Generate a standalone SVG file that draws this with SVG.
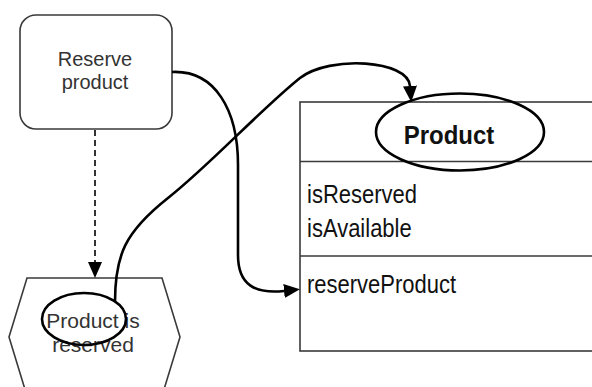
<svg xmlns="http://www.w3.org/2000/svg" width="592" height="387" viewBox="0 0 592 387">
  <style>
    .shape { fill: #fff; stroke: #3a3a3a; stroke-width: 1.6; }
    .ring { fill: none; stroke: #000; stroke-width: 2.6; }
    .flow { fill: none; stroke: #000; stroke-width: 2.6; }
    .dep { fill: none; stroke: #000; stroke-width: 1.6; stroke-dasharray: 6 4; }
    .label { font-family: "Liberation Sans", Arial, sans-serif; font-size: 20px; fill: #333; text-anchor: middle; }
    .label-lg { font-size: 21px; }
    .member { font-family: "Liberation Sans", Arial, sans-serif; font-size: 22px; fill: #111; }
    .title { font-family: "Liberation Sans", Arial, sans-serif; font-size: 24px; font-weight: bold; fill: #111; text-anchor: middle; }
  </style>
  <defs>
    <marker id="head" markerUnits="userSpaceOnUse" viewBox="0 0 16 14" refX="0" refY="7" markerWidth="16" markerHeight="14" orient="auto">
      <path d="M0,0 L16,7 L0,14 z" fill="#000"/>
    </marker>
  </defs>

  <!-- class box -->
  <g id="product-class">
    <rect class="shape" x="300" y="102" width="310" height="249"/>
    <line class="shape" x1="300" y1="161.5" x2="610" y2="161.5"/>
    <line class="shape" x1="300" y1="256" x2="610" y2="256"/>
    <g transform="translate(449 144) scale(1 1.1)"><text class="title" x="0" y="0">Product</text></g>
    <ellipse class="ring" cx="460" cy="132" rx="84" ry="38.5"/>
    <g transform="translate(307 203) scale(1 1.18)"><text class="member" x="0" y="0">isReserved</text></g>
    <g transform="translate(307 237) scale(1 1.18)"><text class="member" x="0" y="0">isAvailable</text></g>
    <g transform="translate(307 293) scale(1 1.18)"><text class="member" x="0" y="0">reserveProduct</text></g>
  </g>

  <!-- activity -->
  <g id="reserve-product">
    <rect class="shape" x="20" y="15" width="152" height="114" rx="16" ry="16"/>
    <text class="label" x="95" y="66">Reserve</text>
    <text class="label" x="95" y="89">product</text>
  </g>

  <!-- event -->
  <g id="product-reserved">
    <polygon class="shape" points="27,278 162,278 180,337 162,396 27,396 9,337"/>
    <text class="label label-lg" x="93" y="328">Product is</text>
    <text class="label label-lg" x="93" y="352">reserved</text>
    <ellipse class="ring" cx="84" cy="319" rx="42" ry="26"/>
  </g>

  <!-- connectors -->
  <g id="connectors">
    <path class="dep" d="M95,130 L95,262" marker-end="url(#head)"/>
    <path class="flow" d="M115,302 C115,255 125,232 168,198 C210,165 260,110 300,78 C330,55 408,60 410,86" marker-end="url(#head)"/>
    <path class="flow" d="M172,72 C215,70 238,110 238,165 L238,255 C238,285 255,294 284,291" marker-end="url(#head)"/>
  </g>
</svg>
